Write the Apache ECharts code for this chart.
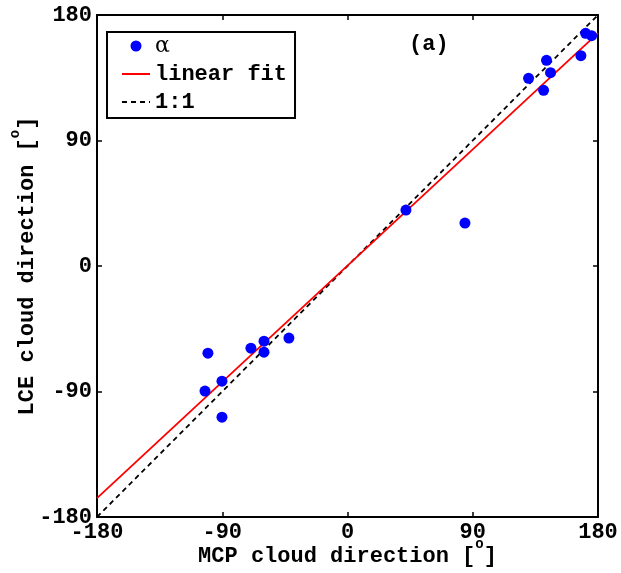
<!DOCTYPE html>
<html>
<head>
<meta charset="utf-8">
<script src="https://cdn.jsdelivr.net/npm/echarts@6/dist/echarts.min.js"></script>
<style>
  html, body { margin: 0; padding: 0; background: #fff; }
  #chart { width: 621px; height: 573px; }
</style>
</head>
<body>
<div id="chart"></div>
<script>
// values
const axisTicks = [-180, -90, 0, 90, 180];
const alphaPoints = [
  [-102.4, -89.7], [-100.3, -62.5], [-90.2, -82.6], [-90.2, -108.4],
  [-69.4, -58.9], [-60.0, -53.9], [-60.0, -61.8], [-42.1, -51.7],
  [42.0, 40.1], [84.4, 30.8],
  [130.1, 134.6], [143.0, 147.5], [145.9, 138.6], [140.9, 126.0],
  [167.7, 150.8], [171.1, 166.9], [175.4, 165.2]
];
const fitLine = [[-180, -166.5], [180, 167.0]];
const oneToOne = [[-180, -180], [180, 180]];

const font = 'Liberation Mono';
const axisName = (txt) => '{n|' + txt + ' [}{sup|o}{n|]}';
const nameRich = {
  n: { fontSize: 22, fontFamily: font, fontWeight: 'bold', color: '#000', lineHeight: 30, verticalAlign: 'bottom' },
  sup: { fontSize: 14, fontFamily: font, fontWeight: 'bold', color: '#000', lineHeight: 14, verticalAlign: 'top' }
};

const myChart = echarts.init(document.getElementById('chart'));

const baseAxis = {
  type: 'value',
  min: -180,
  max: 180,
  interval: 90,
  splitLine: { show: false },
  axisLine: { show: true, onZero: false, lineStyle: { color: '#000', width: 2 } },
  axisTick: { show: true, inside: true, length: 5, lineStyle: { color: '#000', width: 1.5 } }
};

const labelStyle = { fontFamily: font, fontWeight: 'bold', fontSize: 22, color: '#000' };

const option = {
  animation: false,
  backgroundColor: '#fff',
  grid: { left: 97, right: 23, top: 15, bottom: 56, containLabel: false, outerBoundsMode: 'none' },
  legend: {
    orient: 'vertical',
    left: 107,
    top: 32,
    padding: [3, 8, 5, 14],
    itemGap: 6,
    itemWidth: 28,
    itemHeight: 11,
    borderColor: '#000',
    borderWidth: 2,
    backgroundColor: '#fff',
    textStyle: { fontFamily: font, fontWeight: 'bold', fontSize: 22, color: '#000' },
    data: [
      { name: 'α', icon: 'circle', textStyle: { fontFamily: 'DejaVu Serif', fontWeight: 'normal' } },
      { name: 'linear fit', itemStyle: { opacity: 0 } },
      { name: '1:1', itemStyle: { opacity: 0 } }
    ]
  },
  xAxis: [
    Object.assign({}, baseAxis, {
      position: 'bottom',
      name: axisName('MCP cloud direction'),
      nameLocation: 'middle',
      nameGap: 20,
      nameMoveOverlap: false,
      nameTextStyle: { rich: nameRich },
      axisLabel: Object.assign({
        margin: 4,
        formatter: (v) => axisTicks.includes(v) ? String(v) : ''
      }, labelStyle)
    }),
    Object.assign({}, baseAxis, { position: 'top', axisLabel: { show: false } })
  ],
  yAxis: [
    Object.assign({}, baseAxis, {
      position: 'left',
      name: axisName('LCE cloud direction'),
      nameLocation: 'middle',
      nameGap: 59,
      nameMoveOverlap: false,
      nameTextStyle: { rich: nameRich },
      axisLabel: Object.assign({
        margin: 5,
        formatter: (v) => axisTicks.includes(v) ? String(v) : ''
      }, labelStyle)
    }),
    Object.assign({}, baseAxis, { position: 'right', axisLabel: { show: false } })
  ],
  graphic: [
    {
      type: 'text',
      left: 409,
      top: 33,
      style: { text: '(a)', font: 'bold 22px "Liberation Mono"', fill: '#000' }
    }
  ],
  series: [
    {
      name: '1:1',
      type: 'line',
      data: oneToOne,
      symbol: 'none',
      lineStyle: { color: '#000', width: 1.8, type: [5, 4] },
      itemStyle: { color: '#000' },
      z: 2
    },
    {
      name: 'linear fit',
      type: 'line',
      data: fitLine,
      symbol: 'none',
      lineStyle: { color: '#ff0000', width: 1.8 },
      itemStyle: { color: '#ff0000' },
      z: 3
    },
    {
      name: 'α',
      type: 'scatter',
      data: alphaPoints,
      symbolSize: 11,
      itemStyle: { color: '#0000ff', opacity: 1 },
      z: 4
    }
  ]
};

myChart.setOption(option);
</script>
</body>
</html>
